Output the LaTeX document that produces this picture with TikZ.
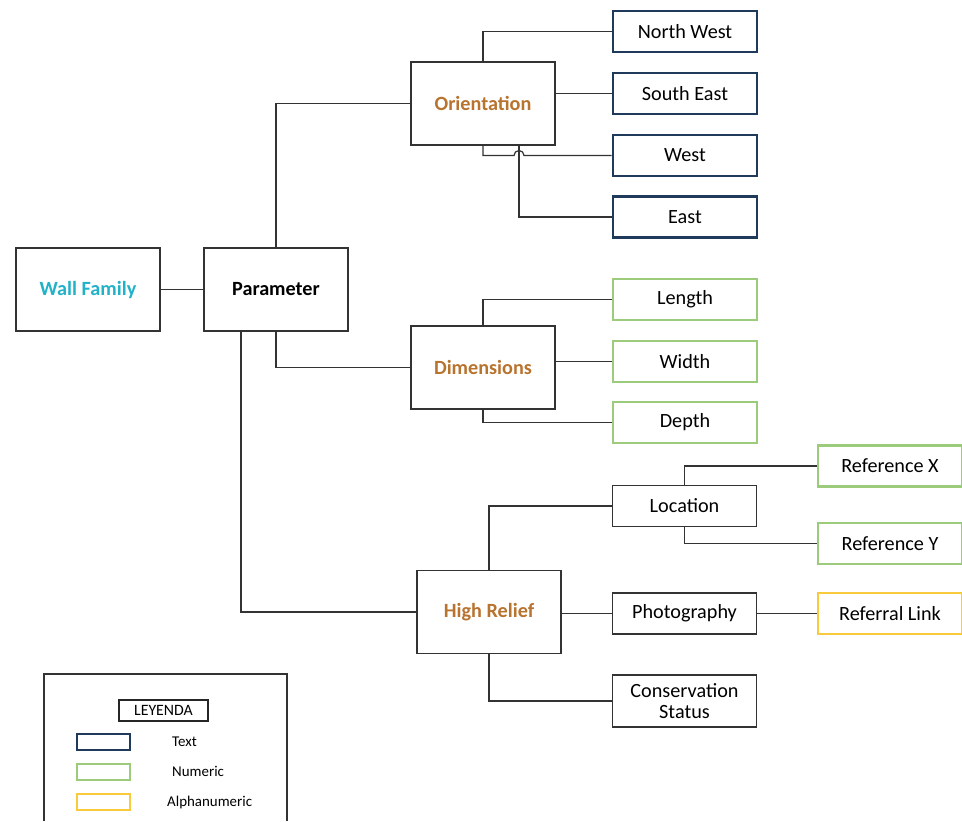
\documentclass[tikz,border=0pt]{standalone}
\usepackage{fontspec}
\setmainfont{Carlito}
\usetikzlibrary{calc, positioning}
\definecolor{navy}{HTML}{1F3A5A}
\definecolor{numgreen}{HTML}{9CCB7C}
\definecolor{alphayellow}{HTML}{F9CB3C}
\definecolor{brownlabel}{HTML}{B8732E}
\definecolor{cyanlabel}{HTML}{22B2C8}

\begin{document}
\begin{tikzpicture}[x=0.02cm, y=-0.02cm,
  box/.style={draw=black!80, line width=0.9pt, rectangle, minimum width=2.88cm, minimum height=1.66cm, font=\fontsize{11.5}{14}\selectfont\bfseries, align=center},
  leaf/.style={draw, rectangle, minimum width=2.88cm, minimum height=0.82cm, font=\fontsize{11.5}{14}\selectfont, align=center},
  textleaf/.style={leaf, draw=navy, line width=1.5pt},
  numleaf/.style={leaf, draw=numgreen, line width=1.3pt},
  alphaleaf/.style={leaf, draw=alphayellow, line width=1.3pt},
  plainleaf/.style={leaf, draw=black!80, line width=0.9pt},
  wire/.style={draw=black!80, line width=0.7pt},
  swatch/.style={draw, rectangle, minimum width=1.06cm, minimum height=0.32cm, line width=1.3pt},
  keytext/.style={anchor=west, font=\fontsize{8.5}{10}\selectfont}]
\useasboundingbox (0,0) rectangle (962,821);

% Nodes
\node[box] (wall) at (88,289.5) {\textcolor{cyanlabel}{Wall Family}};
\node[box] (param) at (276,289.5) {Parameter};
\node[box] (orient) at (483,103.5) {\textcolor{brownlabel}{Orientation}};
\node[box] (dims) at (483,367.5) {\textcolor{brownlabel}{Dimensions}};
\node[box] (relief) at (489,612) {\textcolor{brownlabel}{High Relief}};

\node[textleaf] (nw) at (685,31.5) {North West};
\node[textleaf] (se) at (685,93.5) {South East};
\node[textleaf] (west) at (685,155.5) {West};
\node[textleaf] (east) at (685,217) {East};

\node[numleaf] (length) at (685,299.5) {Length};
\node[numleaf] (width) at (685,361.5) {Width};
\node[numleaf] (depth) at (685,422.5) {Depth};

\node[plainleaf] (loc) at (684.5,506) {Location};
\node[plainleaf] (photo) at (684.5,613.5) {Photography};
\node[plainleaf, minimum height=1.04cm, text width=2.6cm] (cons) at (684.5,701) {Conservation\\[-2pt]Status};
\node[numleaf] (refx) at (890,466) {Reference X};
\node[numleaf] (refy) at (890,543.5) {Reference Y};
\node[alphaleaf] (link) at (890,613.5) {Referral Link};

% Connectors
\draw[wire] (wall) -- (param);
\draw[wire] (param.north) |- (orient.west);
\draw[wire] (param.south) |- (dims.west);
\draw[wire] ($(param.south)+(-35,0)$) |- (relief.west);

\draw[wire] (orient.north) |- (nw.west);
\draw[wire] (orient.east |- se.west) -- (se.west);
\draw[wire] (orient.south) -- (483,155.5) -- (514,155.5)
  arc[start angle=180, end angle=360, radius=5] -- (west.west);
\draw[wire] (east.west) -| ($(orient.south)+(36,0)$);

\draw[wire] (dims.north) |- (length.west);
\draw[wire] (dims.east |- width.west) -- (width.west);
\draw[wire] (dims.south) |- (depth.west);

\draw[wire] (relief.north) |- (loc.west);
\draw[wire] (relief.east |- photo.west) -- (photo.west);
\draw[wire] (relief.south) |- (cons.west);
\draw[wire] (loc.north) |- (refx.west);
\draw[wire] (loc.south) |- (refy.west);
\draw[wire] (photo) -- (link);

% Legend
\draw[black!80, line width=0.8pt] (44,821) |- (287,674) -- (287,821);
\node[draw=black!85, line width=0.8pt, minimum width=1.78cm, minimum height=0.42cm, inner sep=0pt, font=\fontsize{9}{10}\selectfont] (leyenda) at (163.5,710.5) {LEYENDA};
\node[swatch, draw=navy] (ktext) at (103.5,742) {};
\node[swatch, draw=numgreen] (knum) at (103.5,772) {};
\node[swatch, draw=alphayellow] (kalpha) at (103.5,802) {};
\node[keytext] (ltext) at (166,742) {Text};
\node[keytext] (lnum) at (166,771) {Numeric};
\node[keytext] (lalpha) at (161,803) {Alphanumeric};
\end{tikzpicture}
\end{document}
